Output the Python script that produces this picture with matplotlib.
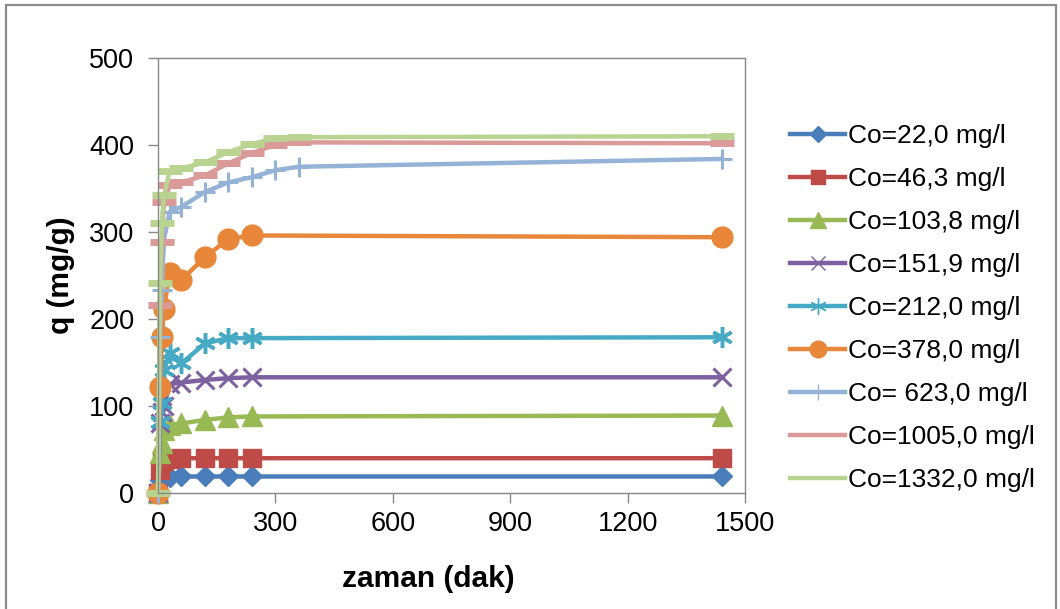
import numpy as np
import matplotlib
matplotlib.use("Agg")
import matplotlib.pyplot as plt
from matplotlib.patches import Rectangle

plt.rcParams['font.family'] = ['Liberation Sans', 'DejaVu Sans']

# contact times (min)
t_short = [0, 5, 10, 15, 30, 60, 120, 180, 240, 1440]
t_long = [0, 5, 10, 15, 30, 60, 120, 180, 240, 300, 360, 1440]

q_22 = [0, 15, 17, 18, 18, 19, 19, 19, 19, 19]
q_46 = [0, 26, 36, 38, 39, 40, 40, 40, 40, 40]
q_104 = [0, 46, 57, 72, 78, 80, 84, 87, 88, 89]
q_152 = [0, 80, 93, 100, 125, 127, 130, 132, 133, 133]
q_212 = [0, 82, 103, 141, 161, 149, 172, 178, 178, 179]
q_378 = [0, 122, 179, 212, 253, 245, 271, 292, 296, 294]
q_623 = [0, 179, 233, 291, 323, 329, 346, 357, 363, 371, 375, 384]
q_1005 = [0, 216, 289, 334, 354, 357, 365, 379, 391, 400, 403, 402]
q_1332 = [0, 241, 310, 342, 370, 373, 380, 392, 401, 408, 409, 410]

labels = ["Co=22,0 mg/l", "Co=46,3 mg/l", "Co=103,8 mg/l", "Co=151,9 mg/l",
          "Co=212,0 mg/l", "Co=378,0 mg/l", "Co= 623,0 mg/l",
          "Co=1005,0 mg/l", "Co=1332,0 mg/l"]

series = [
    (t_short, q_22, '#4A7EBB', 'D', 10, 1),
    (t_short, q_46, '#BE4B48', 's', 13, 1),
    (t_short, q_104, '#98B954', '^', 14, 1),
    (t_short, q_152, '#7D60A0', 'x', 13, 2.2),
    (t_short, q_212, '#46AAC5', (6, 2, 0), 15, 2.5),
    (t_short, q_378, '#E8873A', 'o', 15, 1),
    (t_long, q_623, '#95B3D7', '+', 15, 2.2),
    (t_long, q_1005, '#D99A98', '_', 17, 5),
    (t_long, q_1332, '#B9D390', '_', 17, 5),
]

fig = plt.figure(figsize=(10.6, 6.09), dpi=100)
ax = fig.add_axes([158 / 1060, 1 - 493 / 609, (745 - 158) / 1060, (493 - 58) / 609])

for (t, q, c, m, ms, mew), lab in zip(series, labels):
    ax.plot(t, q, color=c, lw=3.2, marker=m, ms=ms, mew=mew,
            mfc=c, mec=c, clip_on=False, label=lab)

ax.set_xlim(0, 1500)
ax.set_ylim(0, 500)
ax.set_xticks(np.arange(0, 1501, 300))
ax.set_yticks(np.arange(0, 501, 100))
ax.tick_params(direction='out', length=7, width=1, color='#888888',
               labelsize=19.5)
ax.tick_params(axis='x', pad=6)
ax.tick_params(axis='y', pad=10)
for s in ax.spines.values():
    s.set_color('#888888')
    s.set_linewidth(1)

ax.set_xlabel("zaman (dak)", fontsize=21.5, fontweight='bold')
ax.xaxis.set_label_coords((428 - 158) / 587, -0.165)
ax.set_ylabel("q (mg/g)", fontsize=21.5, fontweight='bold', labelpad=10)

leg_handles = []
for (t, q, c, m, ms, mew) in series:
    if m == '_':
        h, = ax.plot([], [], color=c, lw=3.2)
    else:
        h, = ax.plot([], [], color=c, lw=3.2, marker=m, ms=ms * 0.8,
                     mew=1 if mew > 1 else mew, mfc=c, mec=c)
    leg_handles.append(h)

fig.legend(leg_handles, labels, loc='center left',
           bbox_to_anchor=(790 / 1060, 1 - 308 / 609), frameon=False,
           fontsize=19, handlelength=2.1, handletextpad=0.1,
           labelspacing=0.72, borderpad=0, borderaxespad=0)

fig.patches.append(Rectangle((6 / 1060, -0.05), 1050 / 1060, 1.05 - 5 / 609,
                             transform=fig.transFigure, fill=False,
                             edgecolor='#8C8C8C', lw=1.6))

fig.savefig("out.png", dpi=100)
